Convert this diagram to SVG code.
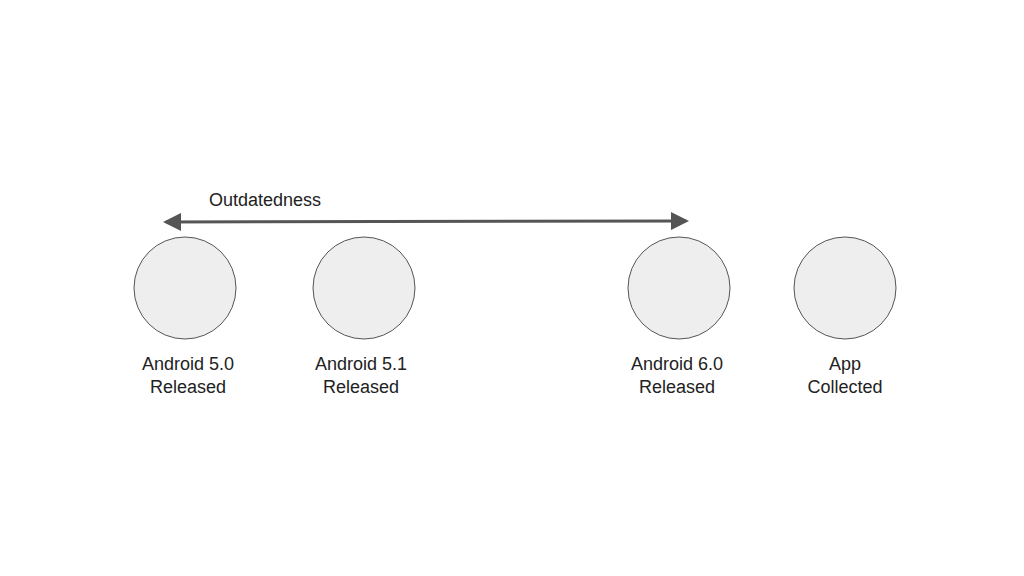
<svg xmlns="http://www.w3.org/2000/svg" width="1024" height="576" viewBox="0 0 1024 576">
<style>
.n{fill:#eeeeee;stroke:#555;stroke-width:1}
.t{font-family:"Liberation Sans",Arial,sans-serif;font-size:18px;fill:#222;text-anchor:middle}
</style>
<defs><marker id="a" markerWidth="6" markerHeight="6" refX="5" refY="3" orient="auto-start-reverse" markerUnits="strokeWidth"><path d="M0,0 L6,3 L0,6 z" fill="#555"/></marker></defs>
<rect width="1024" height="576" fill="#fff"/>
<g id="connectors"><line x1="166" y1="222" x2="686" y2="221" stroke="#555" stroke-width="3" marker-start="url(#a)" marker-end="url(#a)"/></g>
<text class="t" x="265" y="206">Outdatedness</text>
<g id="n1"><circle class="n" cx="185" cy="288" r="51"/><text class="t" x="188" y="370">Android 5.0</text><text class="t" x="188" y="393">Released</text></g>
<g id="n2"><circle class="n" cx="364" cy="288" r="51"/><text class="t" x="361" y="370">Android 5.1</text><text class="t" x="361" y="393">Released</text></g>
<g id="n3"><circle class="n" cx="679" cy="288" r="51"/><text class="t" x="677" y="370">Android 6.0</text><text class="t" x="677" y="393">Released</text></g>
<g id="n4"><circle class="n" cx="845" cy="288" r="51"/><text class="t" x="845" y="370">App</text><text class="t" x="845" y="393">Collected</text></g>
</svg>
